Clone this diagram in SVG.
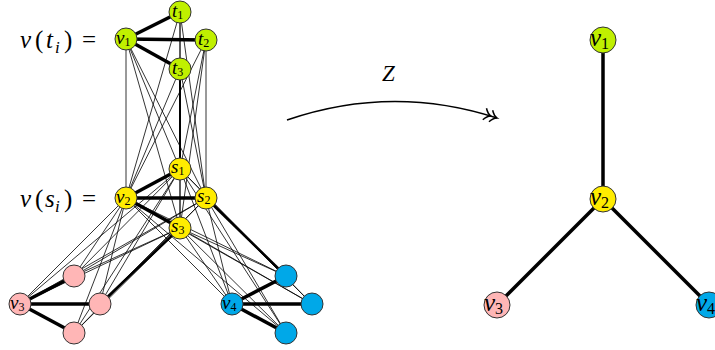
<svg xmlns="http://www.w3.org/2000/svg" width="715" height="350" viewBox="0 0 715 350">
<style>
.thin{stroke:#000;stroke-width:0.8;fill:none}
.mid{stroke:#000;stroke-width:2;fill:none}
.thick{stroke:#000;stroke-width:3.5;fill:none}
.n{stroke:#333;stroke-width:1}
.g{fill:#c0f000}.y{fill:#ffec00}.p{fill:#ffb6b6}.b{fill:#00a8e8}
.m{font-style:italic}
.lab{font-style:italic;font-size:19px}
.sub{font-size:12px;font-style:normal}
.rlab{font-style:italic;font-size:25px}
.rsub{font-size:16px;font-style:normal}
</style>
<defs>
<marker id="dbl" markerUnits="userSpaceOnUse" markerWidth="20" markerHeight="16" viewBox="-15 -8 17 16" refX="0" refY="0" orient="auto">
<path d="M-13,-6 Q-10,-1 -6.5,0 Q-10,1 -13,6 M-6.5,-6 Q-3.5,-1 0,0 Q-3.5,1 -6.5,6" fill="none" stroke="#000" stroke-width="1.5"/>
</marker>
</defs>
<g id="labels" font-family="'Liberation Serif','DejaVu Serif',serif" fill="#000">
<text x="20" y="48" font-size="25"><tspan class="m">v</tspan><tspan x="35">(</tspan><tspan class="m" x="46">t</tspan><tspan class="m" x="55" dy="5" font-size="17">i</tspan><tspan x="64" dy="-5">)</tspan><tspan x="82">=</tspan></text>
<text x="20" y="207" font-size="25"><tspan class="m">v</tspan><tspan x="35">(</tspan><tspan class="m" x="45">s</tspan><tspan class="m" x="55" dy="5" font-size="17">i</tspan><tspan x="64" dy="-5">)</tspan><tspan x="82">=</tspan></text>
<text x="382" y="81" font-size="23" class="m">Z</text>
</g>
<g id="connectors">
<g class="thin">
<line x1="126" y1="39" x2="126" y2="198"/><line x1="126" y1="39" x2="180" y2="169"/><line x1="126" y1="39" x2="206" y2="198"/><line x1="126" y1="39" x2="180" y2="228"/>
<line x1="180" y1="12" x2="126" y2="198"/><line x1="180" y1="12" x2="180" y2="169"/><line x1="180" y1="12" x2="206" y2="198"/><line x1="180" y1="12" x2="180" y2="228"/>
<line x1="206" y1="40" x2="126" y2="198"/><line x1="206" y1="40" x2="180" y2="169"/><line x1="206" y1="40" x2="206" y2="198"/><line x1="206" y1="40" x2="180" y2="228"/>
<line x1="180" y1="69" x2="126" y2="198"/><line x1="180" y1="69" x2="206" y2="198"/><line x1="180" y1="69" x2="180" y2="228"/>
<line x1="126" y1="198" x2="20" y2="304"/><line x1="126" y1="198" x2="74" y2="276"/><line x1="126" y1="198" x2="100" y2="304"/><line x1="126" y1="198" x2="74" y2="333"/>
<line x1="180" y1="169" x2="20" y2="304"/><line x1="180" y1="169" x2="74" y2="276"/><line x1="180" y1="169" x2="100" y2="304"/><line x1="180" y1="169" x2="74" y2="333"/>
<line x1="206" y1="198" x2="20" y2="304"/><line x1="206" y1="198" x2="74" y2="276"/><line x1="206" y1="198" x2="100" y2="304"/><line x1="206" y1="198" x2="74" y2="333"/>
<line x1="180" y1="228" x2="20" y2="304"/><line x1="180" y1="228" x2="74" y2="276"/><line x1="180" y1="228" x2="74" y2="333"/>
<line x1="126" y1="198" x2="232" y2="304"/><line x1="126" y1="198" x2="286" y2="276"/><line x1="126" y1="198" x2="312" y2="304"/><line x1="126" y1="198" x2="286" y2="333"/>
<line x1="180" y1="169" x2="232" y2="304"/><line x1="180" y1="169" x2="286" y2="276"/><line x1="180" y1="169" x2="312" y2="304"/><line x1="180" y1="169" x2="286" y2="333"/>
<line x1="206" y1="198" x2="232" y2="304"/><line x1="206" y1="198" x2="312" y2="304"/><line x1="206" y1="198" x2="286" y2="333"/>
<line x1="180" y1="228" x2="232" y2="304"/><line x1="180" y1="228" x2="286" y2="276"/><line x1="180" y1="228" x2="312" y2="304"/><line x1="180" y1="228" x2="286" y2="333"/>
</g>
<g class="mid">
<line x1="180" y1="69" x2="180" y2="169"/>
<line x1="180" y1="228" x2="100" y2="304" stroke-width="2.5"/>
<line x1="206" y1="198" x2="286" y2="276" stroke-width="2.5"/>
</g>
<g class="thick">
<line x1="126" y1="39" x2="180" y2="12"/><line x1="126" y1="39" x2="206" y2="40"/><line x1="126" y1="39" x2="180" y2="69"/>
<line x1="126" y1="198" x2="180" y2="169"/><line x1="126" y1="198" x2="206" y2="198"/><line x1="126" y1="198" x2="180" y2="228"/>
<line x1="20" y1="304" x2="74" y2="276"/><line x1="20" y1="304" x2="100" y2="304"/><line x1="20" y1="304" x2="74" y2="333"/>
<line x1="232" y1="304" x2="286" y2="276"/><line x1="232" y1="304" x2="312" y2="304"/><line x1="232" y1="304" x2="286" y2="333"/>
<line x1="603" y1="40" x2="603" y2="199"/><line x1="603" y1="199" x2="497" y2="305"/><line x1="603" y1="199" x2="709" y2="305"/>
</g>
<path d="M287,120 Q392,84 497,118" fill="none" stroke="#000" stroke-width="1.6" marker-end="url(#dbl)"/>
</g>
<g font-family="'Liberation Serif','DejaVu Serif',serif" fill="#000">
<g id="n-v1"><circle class="n g" cx="126" cy="39" r="11"/><text class="lab" x="116" y="44">v<tspan class="sub" dy="2">1</tspan></text></g>
<g id="n-t1"><circle class="n g" cx="180" cy="12" r="11"/><text class="lab" x="172" y="17" font-size="17">t<tspan class="sub" dy="2">1</tspan></text></g>
<g id="n-t2"><circle class="n g" cx="206" cy="40" r="11"/><text class="lab" x="198" y="45">t<tspan class="sub" dy="2">2</tspan></text></g>
<g id="n-t3"><circle class="n g" cx="180" cy="69" r="11"/><text class="lab" x="172" y="74">t<tspan class="sub" dy="2">3</tspan></text></g>
<g id="n-s1"><circle class="n y" cx="180" cy="169" r="11"/><text class="lab" x="171" y="173">s<tspan class="sub" dy="2">1</tspan></text></g>
<g id="n-v2"><circle class="n y" cx="126" cy="198" r="11"/><text class="lab" x="116" y="203">v<tspan class="sub" dy="2">2</tspan></text></g>
<g id="n-s2"><circle class="n y" cx="206" cy="198" r="11"/><text class="lab" x="197" y="202">s<tspan class="sub" dy="2">2</tspan></text></g>
<g id="n-s3"><circle class="n y" cx="180" cy="228" r="11"/><text class="lab" x="171" y="232">s<tspan class="sub" dy="2">3</tspan></text></g>
<g id="n-v3"><circle class="n p" cx="20" cy="304" r="11"/><text class="lab" x="10" y="309">v<tspan class="sub" dy="2">3</tspan></text></g>
<g id="n-p1"><circle class="n p" cx="74" cy="276" r="11"/></g>
<g id="n-p2"><circle class="n p" cx="100" cy="304" r="11"/></g>
<g id="n-p3"><circle class="n p" cx="74" cy="333" r="11"/></g>
<g id="n-v4"><circle class="n b" cx="232" cy="304" r="11"/><text class="lab" x="222" y="309">v<tspan class="sub" dy="2">4</tspan></text></g>
<g id="n-b1"><circle class="n b" cx="286" cy="276" r="11"/></g>
<g id="n-b2"><circle class="n b" cx="312" cy="304" r="11"/></g>
<g id="n-b3"><circle class="n b" cx="286" cy="333" r="11"/></g>
<g id="r-v1"><circle class="n g" cx="603" cy="40" r="13"/><text class="rlab" x="590" y="46">v<tspan class="rsub" dy="3">1</tspan></text></g>
<g id="r-v2"><circle class="n y" cx="603" cy="199" r="13"/><text class="rlab" x="590" y="205">v<tspan class="rsub" dy="3">2</tspan></text></g>
<g id="r-v3"><circle class="n p" cx="497" cy="305" r="13"/><text class="rlab" x="484" y="311">v<tspan class="rsub" dy="3">3</tspan></text></g>
<g id="r-v4"><circle class="n b" cx="709" cy="305" r="13"/><text class="rlab" x="696" y="311">v<tspan class="rsub" dy="3">4</tspan></text></g>
</g>
</svg>
